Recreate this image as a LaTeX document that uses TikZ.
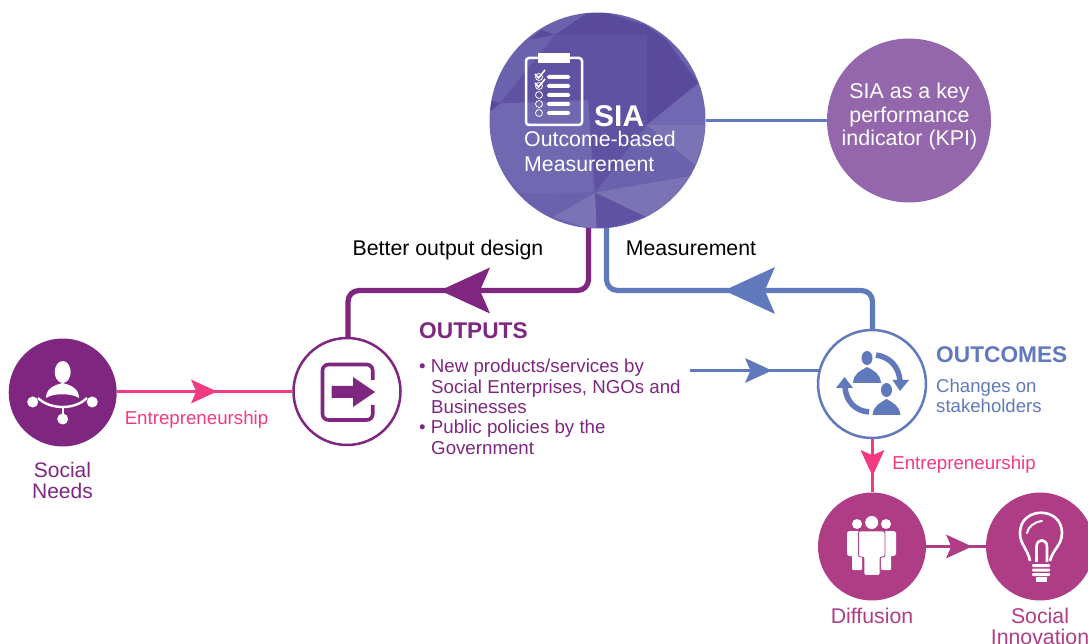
\documentclass[tikz,border=0pt]{standalone}
\usepackage{fontspec}
\setmainfont{Liberation Sans}
\usetikzlibrary{calc}
\definecolor{cPurple}{HTML}{7E2680}
\definecolor{cBlue}{HTML}{6079BC}
\definecolor{cPink}{HTML}{F23A82}
\definecolor{cMag}{HTML}{AE3D85}
\definecolor{cKpi}{HTML}{9467AC}
\definecolor{cSia}{HTML}{6A62AC}
\definecolor{sDark}{HTML}{594A9B}
\definecolor{sMid}{HTML}{6052A2}
\definecolor{sLite}{HTML}{7A74B6}
\definecolor{sSoft}{HTML}{7068B0}
\tikzset{
  solidc/.style={circle,inner sep=0pt,minimum size=#1,fill},
  ringc/.style={circle,inner sep=0pt,minimum size=#1,draw,line width=2.5pt,fill=white},
  lab/.style={inner sep=0pt,align=center},
  wire/.style={line width=3pt},
  thick wire/.style={line width=5.2pt,rounded corners=11pt},
}
\newcommand{\barb}[5]{% x y angle size colour
  \fill[#5,shift={(#1,#2)},rotate=#3,scale=#4] (0,0) -- (-1,.46) -- (-.8,0) -- (-1,-.46) -- cycle;}
\begin{document}
\begin{tikzpicture}[x=1pt,y=-1pt]
\useasboundingbox (0,0) rectangle (1088,644);

\node[solidc=216pt,fill=cSia] (sia) at (597.5,120.5) {};
\node[solidc=164pt,fill=cKpi] (kpi) at (909,120.5) {};
\node[solidc=108pt,fill=cPurple] (needs) at (62.7,392.5) {};
\coordinate (mstart) at (690,370.5);
\coordinate (mend) at (820,370.5);

% polygon shading inside SIA (coordinates in thirds of a pixel)
\begin{scope}
\clip (597.5,120.5) circle (107.5);
\begin{scope}[shift={(480,0)},x=.3333pt,y=-.3333pt]
\fill[sSoft] (20,310) -- (60,310) -- (325,300) -- (340,578) -- (120,580) -- (20,450) -- cycle;
\fill[sDark] (225,105) -- (500,105) -- (495,75) -- (350,30) -- (320,40) -- cycle;
\fill[sMid] (225,105) -- (500,105) -- (500,375) -- (400,470) -- (325,300) -- cycle;
\fill[sMid] (225,105) -- (60,310) -- (325,300) -- cycle;
\fill[sDark] (500,105) -- (495,75) -- (560,120) -- (655,250) -- (500,375) -- cycle;
\fill[sSoft] (500,375) -- (655,250) -- (690,375) -- cycle;
\fill[sLite] (500,375) -- (690,375) -- (645,497) -- cycle;
\fill[cSia] (500,375) -- (645,497) -- (345,578) -- cycle;
\fill[sMid] (325,300) -- (500,375) -- (345,578) -- cycle;
\fill[sLite] (345,578) -- (650,525) -- (600,600) -- (495,650) -- cycle;
\fill[sMid] (345,578) -- (495,650) -- (350,695) -- cycle;
\fill[sLite] (345,578) -- (350,695) -- (220,650) -- cycle;
\fill[cSia] (120,580) -- (345,578) -- (220,650) -- cycle;
\fill[sDark] (150,118) -- (225,105) -- (185,90) -- cycle;
\fill[sDark] (30,300) -- (60,310) -- (30,335) -- cycle;
\end{scope}
\end{scope}

% connectors first, then the ringed nodes over their ends
\draw[cBlue,wire] (sia.east) -- (kpi.west);
\coordinate (pa) at (588.5,228);
\coordinate (ba) at (606.5,228);
\coordinate (pb) at (348,337);
\coordinate (bb) at (872.5,330);
\draw[cPurple,thick wire] (pa) -- (588.5,290.5) -- (348,290.5) -- (pb);
\draw[cBlue,thick wire] (ba) -- (606.5,290.5) -- (872.5,290.5) -- (bb);
\draw[cBlue,wire] (mstart) -- (mend);

\node[ringc=107pt,draw=cPurple] (outp) at (347,391.5) {};
\node[ringc=108pt,draw=cBlue] (outc) at (872,384) {};
\node[solidc=108pt,fill=cMag] (diff) at (872,546.5) {};
\node[solidc=108pt,fill=cMag] (innov) at (1040,546.5) {};
\draw[cPink,wire] (needs.east |- outp.west) -- (outp.west);
\draw[cPink,wire] (outc.south) -- (diff.north);
\draw[cMag,wire] (diff.east) -- (innov.west);

% arrowheads
\barb{440}{290.5}{180}{50}{cPurple}
\barb{724}{290.5}{180}{51}{cBlue}
\barb{217}{391.5}{0}{26}{cPink}
\barb{772}{370.5}{0}{27}{cBlue}
\barb{872.5}{476}{-90}{26}{cPink}
\barb{972}{546.5}{0}{26}{cMag}

% SIA clipboard icon
\begin{scope}[white]
\draw[line width=2.5pt,rounded corners=3pt] (526,58) rectangle (582,125);
\fill (538,53) rectangle (570,63.5);
\foreach \y in {77,86,95,104,113}{
  \fill[rounded corners=1.5pt] (547,\y-2) rectangle (570,\y+2);
  \draw[line width=.8pt] (539,\y) circle (3.5);
}
\draw[line width=1.6pt] (535,74) -- (538.5,78) -- (545,70);
\draw[line width=1.6pt] (535,83) -- (538.5,87) -- (545,79);
\end{scope}
\node[lab,white,anchor=base west,font=\fontsize{30}{32}\selectfont\bfseries] (siat) at (594,127) {SIA};
\node[lab,white,anchor=base west,align=left,font=\fontsize{21.3}{25}\selectfont] (siasub) at (524,172) {Outcome-based\\Measurement};
\node[lab,white,font=\fontsize{21.4}{23.5}\selectfont] (kpit) at (909.5,116.5) {SIA as a key\\performance\\indicator (KPI)};

% Social needs icon
\begin{scope}[white]
\fill (62.7,372) ellipse (8 and 11);
\fill (46,398) .. controls (46,388) and (55,385) .. (62.7,383) .. controls (70,385) and (79,388) .. (79,398) .. controls (72,393) and (53,393) .. (46,398) -- cycle;
\draw[line width=2.4pt] (38,398) .. controls (50,410) and (75,410) .. (87,398);
\draw[line width=2.4pt] (62.7,407) -- (62.7,416);
\fill (32.7,402) circle (5.5);
\fill (92.3,402) circle (5.5);
\fill (62.7,419) circle (5.5);
\end{scope}

% Outputs icon
\draw[cPurple,line width=3.6pt,rounded corners=6pt] (372.7,380) -- (372.7,364.5) -- (322.5,364.5) -- (322.5,420) -- (372.7,420) -- (372.7,405);
\fill[cPurple] (331.7,386) -- (353,386) -- (353,377) -- (375,392) -- (353,407) -- (353,398) -- (331.7,398) -- cycle;

% Outcomes icon
\begin{scope}[cBlue]
\fill (867,358) ellipse (5.5 and 7);
\fill (853,383) .. controls (854,373) and (860,371) .. (867,367) .. controls (874,371) and (880,373) .. (881,383) -- cycle;
\fill (886.5,390) ellipse (5.5 and 7);
\fill (872.5,415) .. controls (874,405) and (880,403) .. (886.5,399) .. controls (893,403) and (899,405) .. (900.5,415) -- cycle;
\draw[line width=5.5pt] (876,355) .. controls (890,357) and (899,367) .. (900,381);
\fill (892.5,380) -- (909,380) -- (900,391) -- cycle;
\draw[line width=5.5pt] (869,412) .. controls (855,411) and (846,401) .. (845,387);
\fill (836,388) -- (853,388) -- (844.5,377) -- cycle;
\end{scope}

% Diffusion icon
\begin{scope}[white]
\foreach \x/\a/\b in {857/847/866,886/877/896}{
  \fill (\x,524) circle (5);
  \fill[rounded corners=2.5pt] (\a,531) rectangle (\b,556);
  \fill[rounded corners=1pt] (\x-5,552) rectangle (\x+5,570);
}
\fill (871.7,522.5) circle (6.5);
\filldraw[draw=cMag,line width=.9pt,fill=white,rounded corners=2pt] (858.5,531) -- (885,531) -- (885,557) -- (880,557) -- (880,575.5) -- (864,575.5) -- (864,557) -- (858.5,557) -- cycle;
\end{scope}

% Bulb icon
\begin{scope}[white]
\draw[line width=2.6pt] (1030,561) .. controls (1028,549) and (1020,545) .. (1020,533) .. controls (1020,506) and (1062,506) .. (1062,533) .. controls (1062,545) and (1053,549) .. (1050,561);
\draw[line width=2pt,line cap=round] (1027,533) .. controls (1028,527) and (1034,522) .. (1042,521);
\draw[line width=2.6pt] (1036.5,562) -- (1036.5,547) .. controls (1036.5,538) and (1047,538) .. (1047,547) -- (1047,562);
\foreach \y in {565.5,570,574.5}{
  \fill[rounded corners=1pt] (1032,\y-1.5) rectangle (1050,\y+1.5);
}
\fill (1036,577) rectangle (1047,581.5);
\end{scope}

% Labels
\node[lab,anchor=base,font=\fontsize{21.3}{23}\selectfont] (l1) at (448,255.5) {Better output design};
\node[lab,anchor=base,font=\fontsize{21.3}{23}\selectfont] (l2) at (691,255.5) {Measurement};
\node[lab,cPink,anchor=base,font=\fontsize{18.7}{20}\selectfont] (l3) at (196.5,425) {Entrepreneurship};
\node[lab,cPink,anchor=base,font=\fontsize{18.7}{20}\selectfont] (l4) at (964,469) {Entrepreneurship};
\node[lab,cPurple,anchor=base,font=\fontsize{21}{21}\selectfont] (l5) at (62.5,498.5) {Social\\Needs};
\node[lab,cPurple,anchor=base west,font=\fontsize{22.7}{24}\selectfont\bfseries] (l6) at (419,338.5) {OUTPUTS};
\node[lab,cPurple,anchor=base west,align=left,font=\fontsize{18.7}{20.3}\selectfont] (l7) at (419,454) {• New products/services by\\
\hspace*{12pt}Social Enterprises, NGOs and\\
\hspace*{12pt}Businesses\\
• Public policies by the\\
\hspace*{12pt}Government};
\node[lab,cBlue,anchor=base west,font=\fontsize{22.7}{24}\selectfont\bfseries] (l8) at (936,362.5) {OUTCOMES};
\node[lab,cBlue,anchor=base west,align=left,font=\fontsize{18.6}{20}\selectfont] (l9) at (936,413) {Changes on\\stakeholders};
\node[lab,cMag,anchor=base,font=\fontsize{21.3}{21}\selectfont] (l10) at (872,623) {Diffusion};
\node[lab,cMag,anchor=base,font=\fontsize{21.3}{21}\selectfont] (l11) at (1040,644) {Social\\Innovation};
\end{tikzpicture}
\end{document}
